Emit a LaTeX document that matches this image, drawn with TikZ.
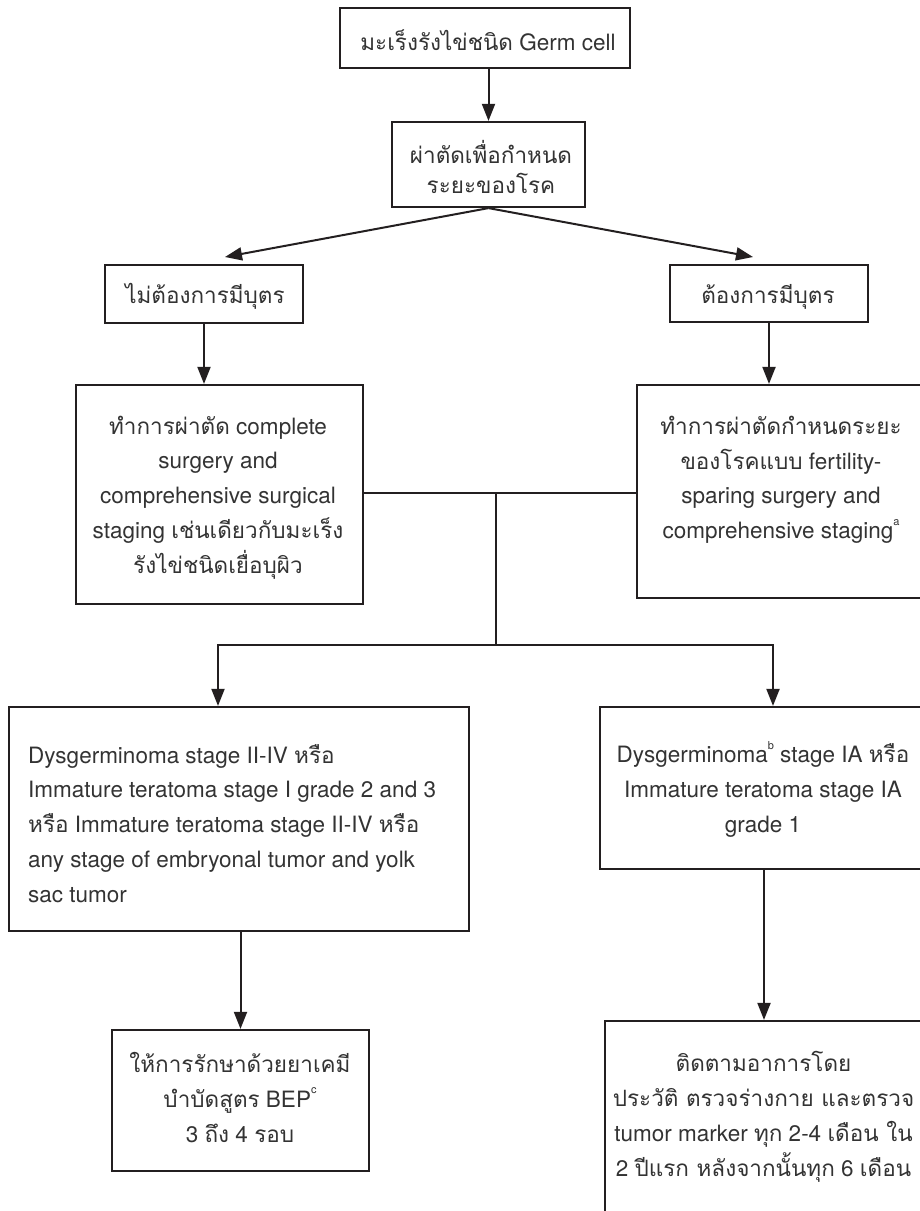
\documentclass[tikz,border=0pt]{standalone}
\usepackage{fontspec}
\setmainfont{TeX Gyre Heros}
\newfontfamily\tf[Script=Thai]{Loma}
\usetikzlibrary{arrows.meta}
\definecolor{ink}{HTML}{231F20}
\definecolor{txt}{HTML}{333333}
\newcommand\sups[1]{\raisebox{0.6em}{\fontsize{11}{11}\selectfont #1}}

\begin{document}
\begin{tikzpicture}[x=1pt,y=-1pt,
  box/.style={draw=ink, line width=2.2pt, rectangle, inner sep=0pt},
  conn/.style={draw=ink, line width=2pt},
  arr/.style={conn, -{Triangle[length=17pt,width=13pt]}},
  big/.style={font=\fontsize{22.5}{30}\selectfont, text=txt, anchor=base, align=center, inner sep=0pt},
  body/.style={font=\fontsize{22.5}{34.7}\selectfont, text=txt, anchor=base, align=center, inner sep=0pt},
]
\useasboundingbox (0,0) rectangle (920,1211);

% boxes
\node[box, minimum width=290pt, minimum height=60pt]  (b1)  at (485,38) {};
\node[box, minimum width=193pt, minimum height=85pt]  (b2)  at (488.5,164.5) {};
\node[box, minimum width=198pt, minimum height=58pt]  (b3)  at (204,294) {};
\node[box, minimum width=198pt, minimum height=57pt]  (b4)  at (769,293.5) {};
\node[box, minimum width=287pt, minimum height=219pt] (b5)  at (219.5,494.5) {};
\node[box, minimum width=288pt, minimum height=213pt] (b6)  at (781,491.5) {};
\node[box, minimum width=460pt, minimum height=224pt] (b7)  at (239,819) {};
\node[box, minimum width=326pt, minimum height=162pt] (b8)  at (763,788) {};
\node[box, minimum width=257pt, minimum height=141pt] (b9)  at (240.5,1100.5) {};
\node[box, minimum width=318pt, minimum height=219pt] (b10) at (764,1130.5) {};

% texts (each node is placed at the baseline of its last line)
\node[big] (t1) at (488,50) {{\tf มะเร็งรังไข่ชนิด} Germ cell};
\node[big] (t2) at (491,193) {{\tf ผ่าตัดเพื่อกำหนด}\\{\tf ระยะของโรค}};
\node[big] (t3) at (205,303) {{\tf ไม่ต้องการมีบุตร}};
\node[big] (t4) at (768,303) {{\tf ต้องการมีบุตร}};
\node[body] (t5) at (218,573) {{\tf ทำการผ่าตัด} complete\\surgery and\\comprehensive surgical\\staging {\tf เช่นเดียวกับมะเร็ง}\\{\tf รังไข่ชนิดเยื่อบุผิว}};
\node[body] (t6) at (781,538.5) {{\tf ทำการผ่าตัดกำหนดระยะ}\\{\tf ของโรคแบบ} fertility-\\sparing surgery and\\comprehensive staging\sups{a}};
\node[body, anchor=base west, align=left] (t7) at (28,902) {Dysgerminoma stage II-IV {\tf หรือ}\\Immature teratoma stage I grade 2 and 3\\{\tf หรือ} Immature teratoma stage II-IV {\tf หรือ}\\any stage of embryonal tumor and yolk\\sac tumor};
\node[body] (t8) at (763,832) {Dysgerminoma\sups{b} stage IA {\tf หรือ}\\Immature teratoma stage IA\\grade 1};
\node[body] (t9) at (240,1142) {{\tf ให้การรักษาด้วยยาเคมี}\\{\tf บำบัดสูตร} BEP\sups{c}\\3 {\tf ถึง} 4 {\tf รอบ}};
\node[body] (t10) at (763.5,1176) {{\tf ติดตามอาการโดย}\\{\tf ประวัติ ตรวจร่างกาย และตรวจ}\\tumor marker {\tf ทุก} 2-4 {\tf เดือน ใน}\\2 {\tf ปีแรก หลังจากนั้นทุก} 6 {\tf เดือน}};

% connectors
\coordinate (tipL) at (225,257);
\coordinate (tipR) at (753,257);
\coordinate (j1) at (496,493);
\coordinate (j2) at (496,645);
\coordinate (aL) at (218,645);
\coordinate (aR) at (773,645);

\draw[arr] (b2.north |- b1.south) -- (b2.north);
\draw[arr] (b2.south) -- (tipL);
\draw[arr] (b2.south) -- (tipR);
\draw[arr] (b3.south) -- (b3.south |- b5.north);
\draw[arr] (b4.south) -- (b4.south |- b6.north);
\draw[conn] (b5.east |- j1) -- (b6.west |- j1);
\draw[conn] (j1) -- (j2);
\draw[arr] (j2) -- (aL) -- (aL |- b7.north);
\draw[arr] (j2) -- (aR) -- (aR |- b8.north);
\draw[arr] (b9.north |- b7.south) -- (b9.north);
\draw[arr] (b10.north |- b8.south) -- (b10.north);
\end{tikzpicture}
\end{document}
